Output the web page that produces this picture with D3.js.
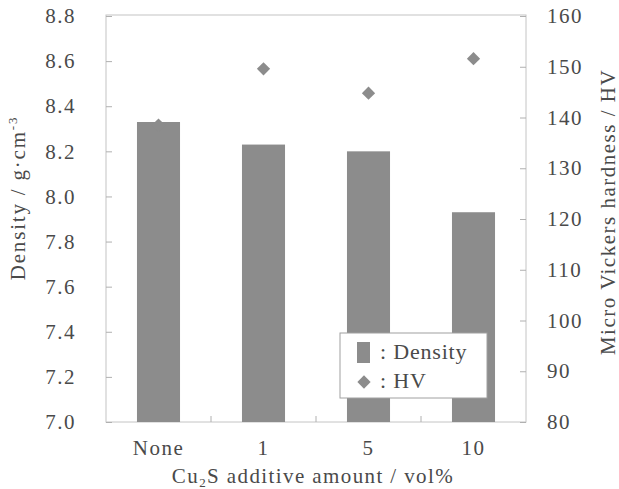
<!DOCTYPE html>
<html><head><meta charset="utf-8">
<script src="https://cdn.jsdelivr.net/npm/d3@7"></script>
<style>
body{margin:0;background:#fff;}
</style></head>
<body>
<svg id="c" width="619" height="489" style="font-family:'Liberation Serif','Times New Roman',Times,serif"></svg>
<script>
const categories = ["None", "1", "5", "10"];
const density = [8.33, 8.23, 8.20, 7.93];
const hardness = [138.5, 149.6, 144.8, 151.6];
const densityTicks = [7.0, 7.2, 7.4, 7.6, 7.8, 8.0, 8.2, 8.4, 8.6, 8.8];
const hvTicks = [80, 90, 100, 110, 120, 130, 140, 150, 160];

const FONT = "'Liberation Serif','Times New Roman',Times,serif";
const TXT = "#4a4a4a";
const svg = d3.select("#c");
const L = 106, R = 526, T = 16, B = 422;
const barColor = "#8c8c8c";

const x = d3.scaleBand().domain(categories).range([L, R]).padding(0);
const yL = d3.scaleLinear().domain([7.0, 8.8]).range([B, T]);
const yR = d3.scaleLinear().domain([80, 160]).range([B, T]);

function txt(sel, size, ls) {
  return sel.style("font-family", FONT).attr("font-size", size).attr("letter-spacing", ls).attr("fill", TXT);
}

// frame
svg.append("rect").attr("x", L).attr("y", T - 1).attr("width", R - L).attr("height", B - T + 1)
  .attr("fill", "#fff").attr("stroke", "#c4c4c4").attr("stroke-width", 1);

// bars
const bw = x.bandwidth() * 0.41;
svg.selectAll("rect.bar").data(categories).join("rect").attr("class", "bar")
  .attr("x", d => x(d) + (x.bandwidth() - bw) / 2)
  .attr("width", bw)
  .attr("y", (d, i) => yL(density[i]))
  .attr("height", (d, i) => B - yL(density[i]))
  .attr("fill", barColor);

// diamonds
const diamond = d3.symbol().type(d3.symbolSquare).size(88);
svg.selectAll("path.hv").data(categories).join("path").attr("class", "hv")
  .attr("d", diamond)
  .attr("transform", (d, i) => `translate(${x(d) + x.bandwidth() / 2},${yR(hardness[i])}) rotate(45)`)
  .attr("fill", barColor);

// left axis
const gl = svg.append("g").attr("transform", `translate(${L},0)`)
  .call(d3.axisLeft(yL).tickValues(densityTicks).tickFormat(d3.format(".1f")).tickSize(-6).tickPadding(30));
gl.attr("font-family", null);
gl.select(".domain").remove();
gl.selectAll(".tick line").attr("stroke", "#b0b0b0");
txt(gl.selectAll(".tick text"), 21, 1.5);

// right axis
const gr = svg.append("g").attr("transform", `translate(${R},0)`)
  .call(d3.axisRight(yR).tickValues(hvTicks).tickSize(-6).tickPadding(21));
gr.attr("font-family", null);
gr.select(".domain").remove();
gr.selectAll(".tick line").attr("stroke", "#b0b0b0");
txt(gr.selectAll(".tick text"), 21, 1.5);

// x ticks at boundaries
svg.selectAll("line.xt").data(categories.slice(1)).join("line").attr("class", "xt")
  .attr("x1", d => x(d)).attr("x2", d => x(d)).attr("y1", B).attr("y2", B - 6)
  .attr("stroke", "#b0b0b0");

// x labels
txt(svg.selectAll("text.xl").data(categories).join("text").attr("class", "xl")
  .attr("x", d => x(d) + x.bandwidth() / 2).attr("y", 455)
  .attr("text-anchor", "middle"), 21, 1.5)
  .text(d => d);

// x title
const xt = txt(svg.append("text").attr("x", 313).attr("y", 483).attr("text-anchor", "middle"), 21, 1.4);
xt.append("tspan").text("Cu");
xt.append("tspan").attr("font-size", 13).attr("dy", 4).text("2");
xt.append("tspan").attr("dy", -4).text("S additive amount / vol%");

// left title
const lt = txt(svg.append("text").attr("transform", "translate(25,198) rotate(-90)")
  .attr("text-anchor", "middle"), 21, 1.8);
lt.append("tspan").text("Density / g·cm");
lt.append("tspan").attr("font-size", 13).attr("dy", -8).text("-3");

// right title
txt(svg.append("text").attr("transform", "translate(615,212) rotate(-90)")
  .attr("text-anchor", "middle"), 21, 1.5)
  .text("Micro Vickers hardness / HV");

// legend
const lg = svg.append("g");
lg.append("rect").attr("x", 340).attr("y", 333).attr("width", 147).attr("height", 65)
  .attr("fill", "#fff").attr("stroke", "#a0a0a0");
lg.append("rect").attr("x", 357).attr("y", 342).attr("width", 13).attr("height", 21).attr("fill", barColor);
lg.append("path").attr("d", diamond).attr("transform", "translate(364,382) rotate(45)").attr("fill", barColor);
txt(lg.append("text").attr("x", 380).attr("y", 359), 22, 0.8).text(": Density");
txt(lg.append("text").attr("x", 380).attr("y", 388), 22, 0.8).text(": HV");
</script>
</body></html>
